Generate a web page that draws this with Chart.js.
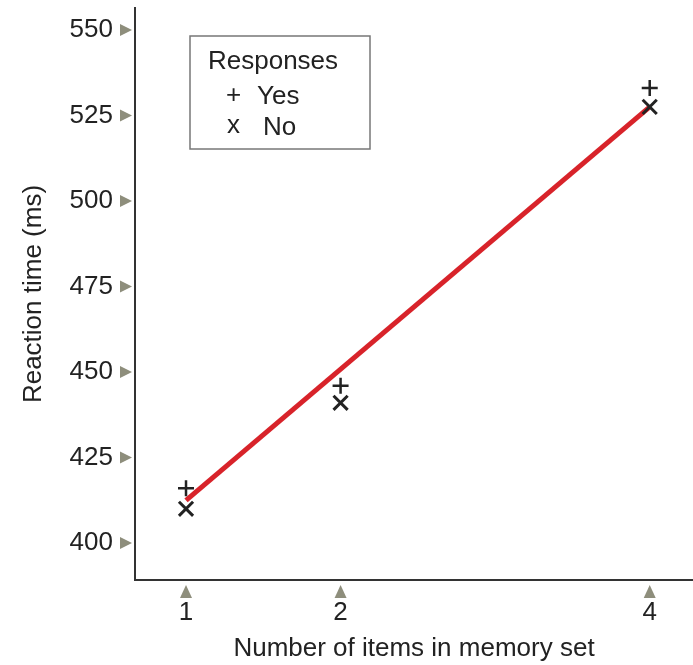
<!DOCTYPE html>
<html>
<head>
<meta charset="utf-8">
<script src="https://cdn.jsdelivr.net/npm/chart.js@4.4.1/dist/chart.umd.min.js"></script>
<style>
  html, body { margin: 0; padding: 0; background: #fff; overflow: hidden; }
  #wrap { width: 693px; height: 665px; position: relative; }
  #chart { display: block; }
</style>
</head>
<body>
<div id="wrap"><canvas id="chart"></canvas></div>
<script>
// data
const setSizes = [1, 2, 4];
const yesRT = [416, 446, 533];
const noRT = [410, 441, 527.5];
const fitX = [1, 4];
const fitY = [412.5, 527.5];
const yTicks = [400, 425, 450, 475, 500, 525, 550];
const xTicks = [1, 2, 4];

const ink = '#222';
const arrowColor = '#8e8e7c';
const font = '"Liberation Sans", Arial, sans-serif';

// no extra padding for edge labels, the axes sit flush
function noPad(scale) {
  scale.paddingTop = 0;
  scale.paddingBottom = 0;
  scale.paddingLeft = 0;
  scale.paddingRight = 0;
}

// triangle tick marks + boxed legend
const decor = {
  id: 'decor',
  afterDraw(chart) {
    const ctx = chart.ctx;
    const xs = chart.scales.x, ys = chart.scales.y;
    const left = chart.chartArea.left, bottom = chart.chartArea.bottom;
    ctx.save();
    ctx.fillStyle = arrowColor;
    yTicks.forEach(v => {
      const py = ys.getPixelForValue(v);
      ctx.beginPath();
      ctx.moveTo(left - 15, py - 6);
      ctx.lineTo(left - 3, py);
      ctx.lineTo(left - 15, py + 6);
      ctx.closePath();
      ctx.fill();
    });
    xTicks.forEach(v => {
      const px = xs.getPixelForValue(v);
      ctx.beginPath();
      ctx.moveTo(px - 6, bottom + 18);
      ctx.lineTo(px, bottom + 5);
      ctx.lineTo(px + 6, bottom + 18);
      ctx.closePath();
      ctx.fill();
    });

    // legend box
    ctx.strokeStyle = '#777';
    ctx.lineWidth = 1.5;
    ctx.strokeRect(190, 36, 180, 113);
    ctx.fillStyle = ink;
    ctx.font = '26px ' + font;
    ctx.textBaseline = 'middle';
    ctx.textAlign = 'left';
    ctx.fillText('Responses', 208, 62);
    ctx.fillText('+', 226, 96);
    ctx.fillText('Yes', 257, 97);
    ctx.fillText('x', 227, 126);
    ctx.fillText('No', 263, 128);
    ctx.restore();
  }
};

new Chart(document.getElementById('chart').getContext('2d'), {
  type: 'scatter',
  data: {
    datasets: [
      {
        label: 'Fit',
        type: 'line',
        data: fitX.map((x, i) => ({ x: x, y: fitY[i] })),
        borderColor: '#d8232a',
        borderWidth: 5,
        pointRadius: 0,
        order: 3
      },
      {
        label: 'Yes',
        data: setSizes.map((x, i) => ({ x: x, y: yesRT[i] })),
        pointStyle: 'cross',
        pointRadius: 8,
        borderColor: ink,
        borderWidth: 2.5,
        order: 1
      },
      {
        label: 'No',
        data: setSizes.map((x, i) => ({ x: x, y: noRT[i] })),
        pointStyle: 'crossRot',
        pointRadius: 10,
        borderColor: ink,
        borderWidth: 3,
        order: 2
      }
    ]
  },
  plugins: [decor],
  options: {
    responsive: true,
    maintainAspectRatio: false,
    animation: false,
    layout: { autoPadding: false, padding: { top: 8, right: 0, left: 0, bottom: 0 } },
    plugins: {
      legend: { display: false },
      tooltip: { enabled: false }
    },
    scales: {
      x: {
        type: 'linear',
        min: 0.67,
        max: 4.28,
        afterBuildTicks(scale) { scale.ticks = xTicks.map(v => ({ value: v })); },
        afterFit(scale) { scale.height = 85; noPad(scale); },
        grid: { display: false, drawTicks: false },
        border: { display: true, color: '#333', width: 2 },
        ticks: { color: ink, font: { size: 26, family: font }, padding: 17 },
        title: {
          display: true,
          text: 'Number of items in memory set',
          color: ink,
          font: { size: 26, family: font },
          padding: { top: 4, bottom: 1 }
        }
      },
      y: {
        type: 'linear',
        min: 389.2,
        max: 556.4,
        afterBuildTicks(scale) { scale.ticks = yTicks.map(v => ({ value: v })); },
        afterFit(scale) { scale.width = 135; noPad(scale); },
        grid: { display: false, drawTicks: false },
        border: { display: true, color: '#333', width: 2 },
        ticks: { color: ink, font: { size: 26, family: font }, padding: 22 },
        title: {
          display: true,
          text: 'Reaction time (ms)',
          color: ink,
          font: { size: 26, family: font },
          padding: { top: 18, bottom: 0 }
        }
      }
    }
  }
});
</script>
</body>
</html>
